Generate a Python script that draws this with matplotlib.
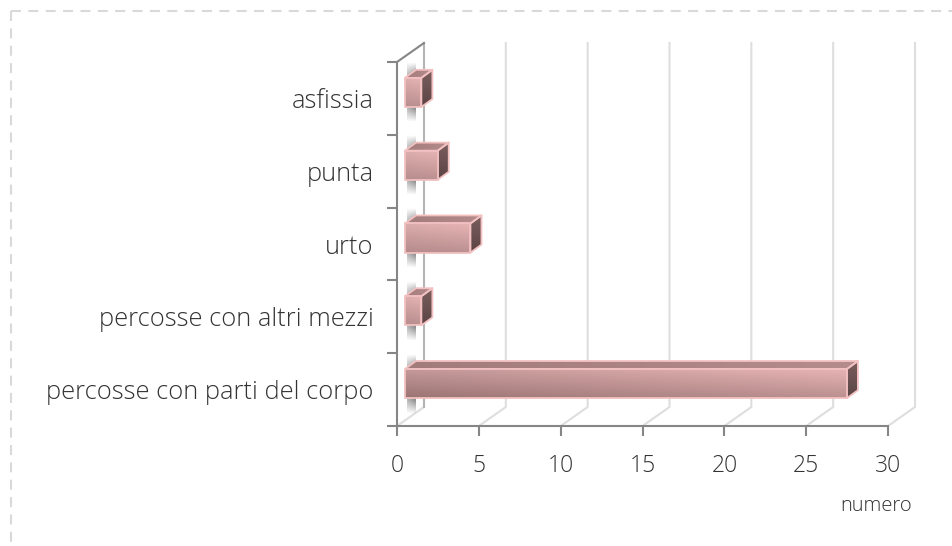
import numpy as np
import matplotlib
matplotlib.use('Agg')
import matplotlib.pyplot as plt
from matplotlib.lines import Line2D
from matplotlib.patches import Polygon

categories = ['percosse con parti del corpo', 'percosse con altri mezzi', 'urto', 'punta', 'asfissia']
values = [27, 1, 4, 2, 1]
x_ticks = [0, 5, 10, 15, 20, 25, 30]

plt.rcParams['font.family'] = ['Open Sans', 'DejaVu Sans']
plt.rcParams['font.weight'] = 'light'
plt.rcParams['lines.scale_dashes'] = False

W, H = 953, 546
fig = plt.figure(figsize=(W/100, H/100), dpi=100)
ax = fig.add_axes([397/W, (H-426)/H, 491/W, 364/H])
ax.set_xlim(0, 30)
ax.set_ylim(0, 5)
for side in ['top', 'right']:
    ax.spines[side].set_visible(False)
for side in ['left', 'bottom']:
    ax.spines[side].set_color('#868686')
    ax.spines[side].set_linewidth(1.5)
ax.patch.set_visible(False)

# pixels -> data units
px = 30/491
py = 5/364
wall_dx, wall_dy = 27*px, 19*py
bar_x0, bar_y0 = 8*px, 6*py
bar_dx, bar_dy = 11*px, 8*py
bar_h = 0.4

# back wall and floor lines
for v in x_ticks[1:]:
    ax.plot([v, v+wall_dx, v+wall_dx], [0, wall_dy, 5+wall_dy], color='#dedede', lw=1.5, clip_on=False, zorder=1)
ax.plot([0, wall_dx], [0, wall_dy], color='#dedede', lw=1.5, clip_on=False, zorder=1)
ax.plot([wall_dx, wall_dx], [wall_dy, 5+wall_dy], color='#b4b4b4', lw=1.5, clip_on=False, zorder=1)
ax.plot([0, wall_dx], [5, 5+wall_dy], color='#868686', lw=1.5, clip_on=False, zorder=1)


def shade(c_tl, c_tr, c_bl, c_br):
    u = np.linspace(0, 1, 120)[None, :, None]
    v = np.linspace(0, 1, 40)[:, None, None]
    c = [np.array(matplotlib.colors.to_rgb(k))[None, None, :] for k in (c_tl, c_tr, c_bl, c_br)]
    return (1-v)*((1-u)*c[0] + u*c[1]) + v*((1-u)*c[2] + u*c[3])


def gradient_poly(corners, rgb, zorder):
    xs, ys = zip(*corners)
    poly = Polygon(corners, closed=True, transform=ax.transData, fc='none', ec='#f2c0c0', lw=1.3, clip_on=False, zorder=zorder+0.1, joinstyle='round')
    im = ax.imshow(rgb, extent=[min(xs), max(xs), min(ys), max(ys)], origin='upper', aspect='auto', interpolation='bilinear', zorder=zorder, clip_on=True)
    ax.add_patch(poly)
    im.set_clip_path(poly)


for i, val in enumerate(values):
    yc = i + 0.5 + bar_y0
    # shadow on the side wall
    t = np.linspace(-1, 1, 80)
    strip = np.zeros((80, 20, 4))
    strip[..., :3] = 0.55
    strip[..., 3] = np.clip((1-np.abs(t))*2.2, 0, 1)[:, None]*np.linspace(0.6, 1, 20)[None, :]
    ax.imshow(strip, extent=[bar_x0+2*px, bar_x0+11*px, yc-30*py, yc+30*py], origin='upper', aspect='auto', interpolation='bilinear', zorder=2, clip_on=False)

    x0, x1 = bar_x0, bar_x0 + val
    y0, y1 = yc - bar_h/2, yc + bar_h/2
    amount = val/27
    # top
    gradient_poly([(x0, y1), (x1, y1), (x1+bar_dx, y1+bar_dy), (x0+bar_dx, y1+bar_dy)],
                  shade('#a27b7b', '#b58c8c', '#a27b7b', '#b58c8c'), 3)
    # right side
    gradient_poly([(x1, y0), (x1+bar_dx, y0+bar_dy), (x1+bar_dx, y1+bar_dy), (x1, y1)],
                  shade('#7a5e5e', '#7a5e5e', '#5c4444', '#5c4444'), 3)
    # front
    left_top = np.array([0xe0, 0xb0, 0xb0]) + amount*(np.array([0xc6, 0x9a, 0x9a]) - np.array([0xe0, 0xb0, 0xb0]))
    left_bot = np.array([0xb8, 0x8e, 0x8e]) + amount*(np.array([0x9c, 0x74, 0x74]) - np.array([0xb8, 0x8e, 0x8e]))
    gradient_poly([(x0, y0), (x1, y0), (x1, y1), (x0, y1)],
                  shade(left_top/255, '#e8b4b4', left_bot/255, '#bb9090'), 4)

ax.set_xlim(0, 30)
ax.set_ylim(0, 5)

ax.set_xticks(x_ticks)
ax.set_xticklabels([str(v) for v in x_ticks], fontsize=16.5, color='#333333')
ax.tick_params(axis='x', length=7, width=1.5, color='#868686', pad=13)
ax.set_yticks(range(6))
ax.set_yticklabels([])
ax.tick_params(axis='y', length=7, width=1.5, color='#868686')
ax.set_yticks(np.arange(len(categories)) + 0.5, minor=True)
ax.set_yticklabels(categories, minor=True, fontsize=18.4, color='#333333')
ax.tick_params(axis='y', which='minor', length=0, pad=17)

fig.text(876/W, 1-506/H, 'numero', ha='center', va='center', fontsize=14.5, color='#333333')

# dashed frame
frame = dict(color='#d9d9d9', lw=1.5, linestyle=(0, (7.2, 5.3)), dash_capstyle='butt')
fig.add_artist(Line2D([11.5/W, 11.5/W], [1-10.5/H, 0], transform=fig.transFigure, **frame))
fig.add_artist(Line2D([11.5/W, 1], [1-10.5/H, 1-10.5/H], transform=fig.transFigure, **frame))

fig.savefig('out.png', dpi=100)
